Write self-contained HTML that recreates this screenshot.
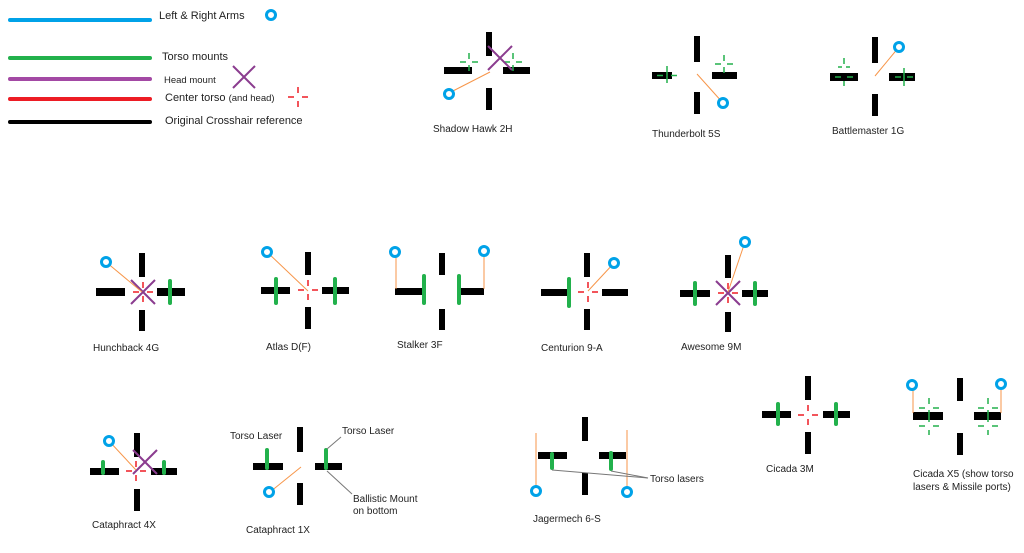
<!DOCTYPE html>
<html><head><meta charset="utf-8"><style>
html,body{margin:0;padding:0;background:#fff;}
svg{display:block;}
text{font-family:"Liberation Sans",sans-serif;font-size:10px;fill:#222;}
</style></head><body>
<svg width="1024" height="553" viewBox="0 0 1024 553" xmlns="http://www.w3.org/2000/svg">
<defs>
<g id="rc" stroke="#ed1c24" stroke-width="1.5">
<line x1="-10" y1="0" x2="-4" y2="0"/><line x1="4" y1="0" x2="10" y2="0"/>
<line x1="0" y1="-10" x2="0" y2="-4"/><line x1="0" y1="4" x2="0" y2="10"/>
</g>
<g id="gc" stroke="#22b14c" stroke-width="1.5">
<line x1="-9" y1="0" x2="-3" y2="0"/><line x1="3" y1="0" x2="9" y2="0"/>
<line x1="0" y1="-9" x2="0" y2="-3"/><line x1="0" y1="3" x2="0" y2="9"/>
</g>
<g id="px" stroke="#8b3c8f" stroke-width="2">
<line x1="-12" y1="-12" x2="12" y2="12"/><line x1="12" y1="-12" x2="-12" y2="12"/>
</g>
<circle id="br" r="4.5" fill="#fff" stroke="#00a2e8" stroke-width="3"/>
</defs>

<!-- Legend -->
<g stroke-width="4" stroke-linecap="round">
<line x1="10" y1="20" x2="150" y2="20" stroke="#00a2e8"/>
<line x1="10" y1="58" x2="150" y2="58" stroke="#22b14c"/>
<line x1="10" y1="79" x2="150" y2="79" stroke="#a349a4"/>
<line x1="10" y1="99" x2="150" y2="99" stroke="#ed1c24"/>
<line x1="10" y1="122" x2="150" y2="122" stroke="#000"/>
</g>
<text x="159" y="19" style="font-size:11px">Left &amp; Right Arms</text>
<use href="#br" x="271" y="15"/>
<text x="162" y="60" style="font-size:11px">Torso mounts</text>
<text x="164" y="83" style="font-size:9.5px">Head mount</text>
<g stroke="#8b3c8f" stroke-width="2"><line x1="233" y1="66" x2="255" y2="88"/><line x1="255" y1="66" x2="233" y2="88"/></g>
<text x="165" y="101" style="font-size:11px">Center torso <tspan style="font-size:9.5px">(and head)</tspan></text>
<use href="#rc" x="298" y="97"/>
<text x="165" y="124" style="font-size:11px">Original Crosshair reference</text>

<!-- Shadow Hawk -->
<g fill="#000"><rect x="486" y="32" width="6" height="24"/><rect x="486" y="88" width="6" height="22"/><rect x="444" y="67" width="28" height="7"/><rect x="503" y="67" width="27" height="7"/></g>
<use href="#gc" x="469" y="62"/><use href="#gc" x="513" y="62"/>
<use href="#px" x="500" y="58"/>
<line x1="449" y1="93" x2="490" y2="72" stroke="#f7964a" stroke-width="1"/>
<use href="#br" x="449" y="94"/>
<text x="433" y="132">Shadow Hawk 2H</text>

<!-- Thunderbolt -->
<g fill="#000"><rect x="694" y="36" width="6" height="26"/><rect x="694" y="92" width="6" height="22"/><rect x="652" y="72" width="20" height="7"/><rect x="712" y="72" width="25" height="7"/></g>
<g stroke="#22b14c" stroke-width="1.5"><line x1="667" y1="66" x2="667" y2="83"/><line x1="657" y1="75.5" x2="663" y2="75.5"/><line x1="671" y1="75.5" x2="677" y2="75.5"/></g>
<use href="#gc" x="724" y="64"/>
<line x1="697" y1="74" x2="723" y2="103" stroke="#f7964a" stroke-width="1"/>
<use href="#br" x="723" y="103"/>
<text x="652" y="137">Thunderbolt 5S</text>

<!-- Battlemaster -->
<g fill="#000"><rect x="872" y="37" width="6" height="26"/><rect x="872" y="94" width="6" height="22"/><rect x="830" y="73" width="28" height="8"/><rect x="889" y="73" width="26" height="8"/></g>
<g stroke="#22b14c" stroke-width="1.5"><line x1="835" y1="77" x2="841" y2="77"/><line x1="847" y1="77" x2="853" y2="77"/><line x1="838" y1="67" x2="850" y2="67" stroke-dasharray="4,4"/><line x1="844" y1="58" x2="844" y2="64"/><line x1="844" y1="81" x2="844" y2="86"/>
<line x1="895" y1="77" x2="901" y2="77"/><line x1="907" y1="77" x2="913" y2="77"/><line x1="904" y1="68" x2="904" y2="86"/></g>
<line x1="875" y1="76" x2="899" y2="47" stroke="#f7964a" stroke-width="1"/>
<use href="#br" x="899" y="47"/>
<text x="832" y="134">Battlemaster 1G</text>

<!-- Hunchback -->
<g fill="#000"><rect x="139" y="253" width="6" height="24"/><rect x="139" y="310" width="6" height="21"/><rect x="96" y="288" width="29" height="8"/><rect x="157" y="288" width="28" height="8"/></g>
<rect x="168" y="279" width="4" height="26" rx="2" fill="#22b14c"/>
<use href="#px" x="143" y="292"/><use href="#rc" x="143" y="292"/>
<line x1="106" y1="262" x2="142" y2="292" stroke="#f7964a" stroke-width="1"/>
<use href="#br" x="106" y="262"/>
<text x="93" y="351">Hunchback 4G</text>

<!-- Atlas -->
<g fill="#000"><rect x="305" y="252" width="6" height="23"/><rect x="305" y="307" width="6" height="22"/><rect x="261" y="287" width="29" height="7"/><rect x="322" y="287" width="27" height="7"/></g>
<rect x="274" y="277" width="4" height="28" rx="2" fill="#22b14c"/><rect x="333" y="277" width="4" height="28" rx="2" fill="#22b14c"/>
<use href="#rc" x="308" y="290"/>
<line x1="267" y1="252" x2="308" y2="291" stroke="#f7964a" stroke-width="1"/>
<use href="#br" x="267" y="252"/>
<text x="266" y="350">Atlas D(F)</text>

<!-- Stalker -->
<g fill="#000"><rect x="439" y="253" width="6" height="22"/><rect x="439" y="309" width="6" height="21"/><rect x="395" y="288" width="28" height="7"/><rect x="460" y="288" width="24" height="7"/></g>
<rect x="422" y="274" width="4" height="31" rx="2" fill="#22b14c"/><rect x="457" y="274" width="4" height="31" rx="2" fill="#22b14c"/>
<g stroke="#f7964a" stroke-width="1"><line x1="396" y1="252" x2="396" y2="289"/><line x1="484" y1="251" x2="484" y2="289"/></g>
<use href="#br" x="395" y="252"/><use href="#br" x="484" y="251"/>
<text x="397" y="348">Stalker 3F</text>

<!-- Centurion -->
<g fill="#000"><rect x="584" y="253" width="6" height="24"/><rect x="584" y="309" width="6" height="21"/><rect x="541" y="289" width="27" height="7"/><rect x="602" y="289" width="26" height="7"/></g>
<rect x="567" y="277" width="4" height="31" rx="2" fill="#22b14c"/>
<use href="#rc" x="588" y="292"/>
<line x1="588" y1="291" x2="614" y2="263" stroke="#f7964a" stroke-width="1"/>
<use href="#br" x="614" y="263"/>
<text x="541" y="351">Centurion 9-A</text>

<!-- Awesome -->
<g fill="#000"><rect x="725" y="255" width="6" height="23"/><rect x="725" y="312" width="6" height="20"/><rect x="680" y="290" width="30" height="7"/><rect x="742" y="290" width="26" height="7"/></g>
<rect x="693" y="281" width="4" height="25" rx="2" fill="#22b14c"/><rect x="753" y="281" width="4" height="25" rx="2" fill="#22b14c"/>
<use href="#px" x="728" y="293"/><use href="#rc" x="728" y="293"/>
<line x1="728" y1="292" x2="745" y2="242" stroke="#f7964a" stroke-width="1"/>
<use href="#br" x="745" y="242"/>
<text x="681" y="350">Awesome 9M</text>

<!-- Cataphract 4X -->
<g fill="#000"><rect x="134" y="433" width="6" height="24"/><rect x="134" y="489" width="6" height="22"/><rect x="90" y="468" width="29" height="7"/><rect x="151" y="468" width="26" height="7"/></g>
<rect x="101" y="460" width="4" height="15" rx="2" fill="#22b14c"/><rect x="162" y="460" width="4" height="15" rx="2" fill="#22b14c"/>
<use href="#px" x="145" y="462"/><use href="#rc" x="136" y="471"/>
<line x1="109" y1="441" x2="136" y2="470" stroke="#f7964a" stroke-width="1"/>
<use href="#br" x="109" y="441"/>
<text x="92" y="528">Cataphract 4X</text>

<!-- Cataphract 1X -->
<g fill="#000"><rect x="297" y="427" width="6" height="25"/><rect x="297" y="483" width="6" height="22"/><rect x="253" y="463" width="30" height="7"/><rect x="315" y="463" width="27" height="7"/></g>
<rect x="265" y="448" width="4" height="22" rx="2" fill="#22b14c"/><rect x="324" y="448" width="4" height="22" rx="2" fill="#22b14c"/>
<line x1="270" y1="492" x2="301" y2="467" stroke="#f7964a" stroke-width="1"/>
<use href="#br" x="269" y="492"/>
<g stroke="#777" stroke-width="1"><line x1="341" y1="437" x2="327" y2="449"/><line x1="327" y1="471" x2="352" y2="494"/></g>
<text x="230" y="439">Torso Laser</text>
<text x="342" y="434">Torso Laser</text>
<text x="353" y="502">Ballistic Mount</text>
<text x="353" y="514">on bottom</text>
<text x="246" y="533">Cataphract 1X</text>

<!-- Jagermech -->
<g fill="#000"><rect x="582" y="417" width="6" height="24"/><rect x="582" y="473" width="6" height="22"/><rect x="538" y="452" width="29" height="7"/><rect x="599" y="452" width="27" height="7"/></g>
<rect x="550" y="452" width="4" height="18" rx="2" fill="#22b14c"/><rect x="609" y="451" width="4" height="20" rx="2" fill="#22b14c"/>
<g stroke="#f7964a" stroke-width="1"><line x1="536" y1="433" x2="536" y2="490"/><line x1="627" y1="430" x2="627" y2="490"/></g>
<g stroke="#777" stroke-width="1"><line x1="552" y1="470" x2="648" y2="478"/><line x1="611" y1="471" x2="648" y2="478"/></g>
<use href="#br" x="536" y="491"/><use href="#br" x="627" y="492"/>
<text x="650" y="482">Torso lasers</text>
<text x="533" y="522">Jagermech 6-S</text>

<!-- Cicada 3M -->
<g fill="#000"><rect x="805" y="376" width="6" height="24"/><rect x="805" y="432" width="6" height="22"/><rect x="762" y="411" width="29" height="7"/><rect x="823" y="411" width="27" height="7"/></g>
<rect x="776" y="402" width="4" height="24" rx="2" fill="#22b14c"/><rect x="834" y="402" width="4" height="24" rx="2" fill="#22b14c"/>
<use href="#rc" x="808" y="415"/>
<text x="766" y="472">Cicada 3M</text>

<!-- Cicada X5 -->
<g fill="#000"><rect x="957" y="378" width="6" height="23"/><rect x="957" y="433" width="6" height="22"/><rect x="913" y="412" width="30" height="8"/><rect x="974" y="412" width="27" height="8"/></g>
<g stroke="#22b14c" stroke-width="1.5">
<line x1="929" y1="398" x2="929" y2="404"/><line x1="929" y1="430" x2="929" y2="435"/><line x1="929" y1="410" x2="929" y2="422"/>
<line x1="919" y1="408" x2="925" y2="408"/><line x1="933" y1="408" x2="939" y2="408"/><line x1="919" y1="426" x2="925" y2="426"/><line x1="933" y1="426" x2="939" y2="426"/>
<line x1="988" y1="398" x2="988" y2="404"/><line x1="988" y1="430" x2="988" y2="435"/><line x1="988" y1="410" x2="988" y2="422"/>
<line x1="978" y1="408" x2="984" y2="408"/><line x1="992" y1="408" x2="998" y2="408"/><line x1="978" y1="426" x2="984" y2="426"/><line x1="992" y1="426" x2="998" y2="426"/>
</g>
<g stroke="#f7964a" stroke-width="1"><line x1="913" y1="386" x2="913" y2="413"/><line x1="1001" y1="385" x2="1001" y2="413"/></g>
<use href="#br" x="912" y="385"/><use href="#br" x="1001" y="384"/>
<text x="913" y="477">Cicada X5 (show torso</text>
<text x="913" y="490">lasers &amp; Missile ports)</text>
</svg>
</body></html>
